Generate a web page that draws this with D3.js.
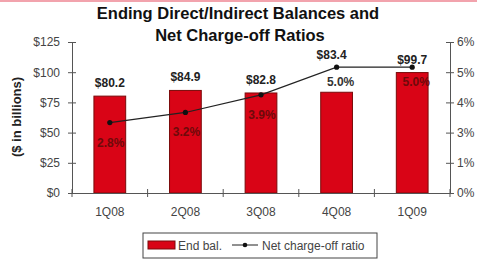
<!DOCTYPE html>
<html>
<head>
<meta charset="utf-8">
<script src="https://cdn.jsdelivr.net/npm/d3@7"></script>
<style>
  body { margin: 0; background: #fff; }
  text { font-family: "Liberation Sans", Arial, sans-serif; }
</style>
</head>
<body>
<div id="chart"></div>
<script>
const quarters = ['1Q08', '2Q08', '3Q08', '4Q08', '1Q09'];
const endBal = [80.2, 84.9, 82.8, 83.4, 99.7];
const ncoRatio = [2.8, 3.2, 3.9, 5.0, 5.0];
const leftTicks = [0, 25, 50, 75, 100, 125];
const rightTicks = [0, 1.2, 2.4, 3.6, 4.8, 6];
const rightTickLabels = ['0%', '1%', '3%', '4%', '5%', '6%'];

const width = 477, height = 260;
const svg = d3.select('#chart').append('svg')
    .attr('width', width)
    .attr('height', height);

// pink rule at the very top
svg.append('rect').attr('x', 0).attr('y', 0).attr('width', width).attr('height', 2).attr('fill', '#f2a3ad');

svg.append('text').attr('x', 238).attr('y', 19).attr('text-anchor', 'middle')
    .style('font-size', '16.5px').style('font-weight', 'bold').attr('fill', '#111').text('Ending Direct/Indirect Balances and');
svg.append('text').attr('x', 240).attr('y', 41).attr('text-anchor', 'middle')
    .style('font-size', '16.5px').style('font-weight', 'bold').attr('fill', '#111').text('Net Charge-off  Ratios');

const x = d3.scaleBand().domain(quarters).range([72, 450]).paddingInner(0.58).paddingOuter(0.29);
const yL = d3.scaleLinear().domain([0, 125]).range([193, 42]);
const yR = d3.scaleLinear().domain([0, 6]).range([193, 42]);

// bars
svg.selectAll('.bar').data(endBal).enter().append('rect')
    .attr('x', (d, i) => x(quarters[i]))
    .attr('y', d => yL(d))
    .attr('width', x.bandwidth())
    .attr('height', d => yL(0) - yL(d))
    .attr('fill', '#d90416')
    .attr('stroke', '#7a0a0a')
    .attr('stroke-width', 1);

// left axis
const axL = svg.append('g').attr('transform', 'translate(72,0)')
    .call(d3.axisLeft(yL).tickValues(leftTicks).tickFormat(d => '$' + d).tickSize(0).tickPadding(12));
axL.select('.domain').attr('stroke', '#555');
axL.selectAll('.tick').append('line').attr('x1', -4).attr('x2', 4).attr('stroke', '#555');
axL.selectAll('text').style('font-size', '12px').attr('fill', '#444');

// right axis
const axR = svg.append('g').attr('transform', 'translate(450,0)')
    .call(d3.axisRight(yR).tickValues(rightTicks).tickFormat((d, i) => rightTickLabels[i]).tickSize(0).tickPadding(7));
axR.select('.domain').attr('stroke', '#555');
axR.selectAll('.tick').append('line').attr('x1', -4).attr('x2', 4).attr('stroke', '#555');
axR.selectAll('text').style('font-size', '12px').attr('fill', '#444');

// bottom axis
const axB = svg.append('g').attr('transform', 'translate(0,193)')
    .call(d3.axisBottom(x).tickSize(0).tickPadding(14));
axB.select('.domain').attr('stroke', '#555');
const bounds = d3.range(quarters.length + 1).map(i => 72 + i * x.step());
axB.selectAll('.sep').data(bounds).enter().append('line')
    .attr('x1', d => d).attr('x2', d => d).attr('y1', -4).attr('y2', 4).attr('stroke', '#555');
axB.selectAll('text').style('font-size', '12px').attr('fill', '#444');

// y title
svg.append('text').attr('transform', 'translate(21,117) rotate(-90)').attr('text-anchor', 'middle')
    .style('font-size', '13px').style('font-weight', 'bold').attr('fill', '#222').text('($ in billions)');

const cx = (d, i) => x(quarters[i]) + x.bandwidth() / 2;

// bar value labels (4Q08 sits above the line point)
svg.selectAll('.bal').data(endBal).enter().append('text')
    .attr('x', (d, i) => cx(d, i) - (i === 3 ? 5 : 0))
    .attr('y', (d, i) => i === 3 ? yR(ncoRatio[i]) - 8 : yL(d) - 9)
    .attr('text-anchor', 'middle')
    .style('font-size', '12px').style('font-weight', 'bold').attr('fill', '#222')
    .text(d => '$' + d.toFixed(1));

// line
const line = d3.line().x(cx).y(d => yR(d));
svg.append('path').datum(ncoRatio).attr('d', line).attr('fill', 'none').attr('stroke', '#222').attr('stroke-width', 1.2);
svg.selectAll('.pt').data(ncoRatio).enter().append('circle')
    .attr('cx', cx).attr('cy', d => yR(d)).attr('r', 2.6).attr('fill', '#111');

// ratio labels
svg.selectAll('.pct').data(ncoRatio).enter().append('text')
    .attr('x', (d, i) => cx(d, i) + (i >= 3 ? 4 : 1))
    .attr('y', (d, i) => yR(d) + (i < 3 ? 24 : 19))
    .attr('text-anchor', 'middle')
    .style('font-size', '12px').style('font-weight', 'bold')
    .attr('fill', (d, i) => i === 3 ? '#333' : '#6e0a0a')
    .text(d => d.toFixed(1) + '%');

// legend
const lg = svg.append('g');
lg.append('rect').attr('x', 143).attr('y', 233).attr('width', 234).attr('height', 25)
    .attr('fill', '#fff').attr('stroke', '#444').attr('stroke-width', 1);
lg.append('rect').attr('x', 148).attr('y', 241).attr('width', 27).attr('height', 8)
    .attr('fill', '#d90416').attr('stroke', '#7a0a0a');
lg.append('text').attr('x', 178).attr('y', 249.5).style('font-size', '12px').attr('fill', '#444').text('End bal.');
lg.append('line').attr('x1', 232).attr('x2', 258).attr('y1', 245).attr('y2', 245).attr('stroke', '#222');
lg.append('circle').attr('cx', 245).attr('cy', 245).attr('r', 2.3).attr('fill', '#111');
lg.append('text').attr('x', 262).attr('y', 249.5).style('font-size', '12px').attr('fill', '#444').text('Net charge-off ratio');
</script>
</body>
</html>
